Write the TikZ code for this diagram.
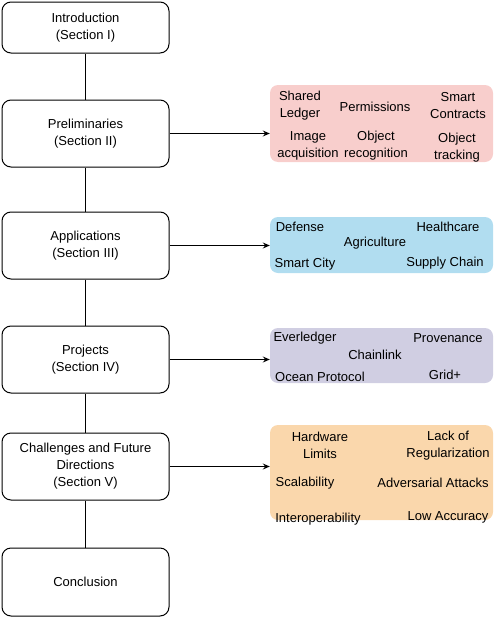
\documentclass[tikz,border=0pt]{standalone}
\usepackage{fontspec}
\setmainfont{Liberation Sans}
\usetikzlibrary{arrows.meta,positioning}

\definecolor{pinkfill}{HTML}{F8CECC}
\definecolor{bluefill}{HTML}{B1DDF0}
\definecolor{purplefill}{HTML}{D0CEE2}
\definecolor{orangefill}{HTML}{FAD7AC}

\begin{document}
\begin{tikzpicture}[
  x=1pt, y=-1pt,
  font=\fontsize{13}{17}\selectfont,
  sec/.style={draw,line width=1pt,rounded corners=9pt,align=center,minimum width=167pt,inner sep=0pt},
  group/.style={rounded corners=8pt,minimum width=223pt,inner sep=0pt},
  item/.style={align=center,inner sep=0pt,yshift=-1.5pt},
  arr/.style={-{Stealth[open,length=7pt,width=6pt,inset=2.5pt]},line width=1pt},
  link/.style={line width=1pt}
]
\useasboundingbox (0,0) rectangle (499,621);
\node[sec,minimum height=51pt] (intro) at (85.5,27.5) {Introduction\\(Section I)};
\node[sec,minimum height=67pt] (prelim) at (85.5,133.5) {Preliminaries\\(Section II)};
\node[sec,minimum height=67pt] (apps) at (85.5,245.5) {Applications\\(Section III)};
\node[sec,minimum height=67pt] (proj) at (85.5,359.5) {Projects\\(Section IV)};
\node[sec,minimum height=67pt] (chall) at (85.5,466.5) {Challenges and Future\\Directions\\(Section V)};
\node[sec,minimum height=68pt] (concl) at (85.5,582) {Conclusion};
% groups
\node[group,fill=pinkfill,minimum height=77pt] (prelimgrp) at (381.5,123.5) {};
\node[group,fill=bluefill,minimum height=56pt] (appsgrp) at (381.5,245) {};
\node[group,fill=purplefill,minimum height=55pt] (projgrp) at (381.5,355.5) {};
\node[group,fill=orangefill,minimum height=95pt] (challgrp) at (381.5,472.5) {};
% items
\node[item] (ledger) at (300,104) {Shared\\Ledger};
\node[item] (perm) at (375,105) {Permissions};
\node[item] (contracts) at (458,104) {Smart\\Contracts};
\node[item] (acq) at (308,144) {Image\\acquisition};
\node[item] (recog) at (376,144) {Object\\recognition};
\node[item] (track) at (457,146) {Object\\tracking};
\node[item] (defense) at (300,225) {Defense};
\node[item] (health) at (448,225) {Healthcare};
\node[item] (agri) at (375,242) {Agriculture};
\node[item] (city) at (305,263) {Smart City};
\node[item] (supply) at (445,262) {Supply Chain};
\node[item] (ever) at (305,337) {Everledger};
\node[item] (prov) at (448,337) {Provenance};
\node[item] (chain) at (375,353) {Chainlink};
\node[item] (ocean) at (320,375) {Ocean Protocol};
\node[item] (grid) at (445,373) {Grid+};
\node[item] (hw) at (320,444) {Hardware\\Limits};
\node[item] (lack) at (448,444) {Lack of\\Regularization};
\node[item] (scal) at (305,482) {Scalability};
\node[item] (adv) at (433,481) {Adversarial Attacks};
\node[item] (inter) at (318,518) {Interoperability};
\node[item] (low) at (448,516) {Low Accuracy};
% spine
\draw[link] (intro) -- (prelim);
\draw[link] (prelim) -- (apps);
\draw[link] (apps) -- (proj);
\draw[link] (proj) -- (chall);
\draw[link] (chall) -- (concl);
% arrows
\draw[arr] (prelim.east) -- (prelim.east -| prelimgrp.west);
\draw[arr] (apps.east) -- (apps.east -| appsgrp.west);
\draw[arr] (proj.east) -- (proj.east -| projgrp.west);
\draw[arr] (chall.east) -- (chall.east -| challgrp.west);
\end{tikzpicture}
\end{document}
